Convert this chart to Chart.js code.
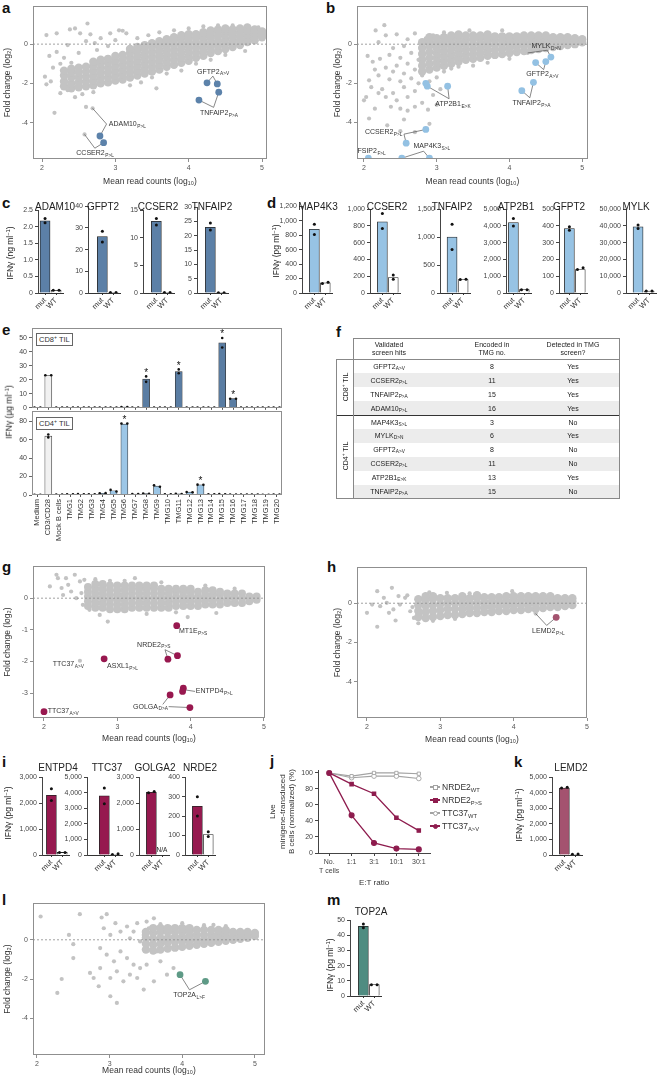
<!DOCTYPE html>
<html lang="en">
<head>
<meta charset="UTF-8">
<title>Screen hits figure</title>
<script src="https://cdn.jsdelivr.net/npm/chart.js"></script>
<style>
  body { margin: 0; background: #fff; }
  #fig { position: relative; width: 668px; height: 1082px; overflow: hidden; background: #fff;
         font-family: 'Liberation Sans', Arial, sans-serif; color: #222; }
  #fig canvas { position: absolute; }
  .t { position: absolute; white-space: nowrap; line-height: 1; transform: translate(-50%, -50%); }
  .rot { position: absolute; white-space: nowrap; line-height: 1; transform: translate(-50%, -50%) rotate(-90deg); }
  .letter { position: absolute; font: bold 15px 'Liberation Sans', Arial, sans-serif; line-height: 1; color: #111; }
  sub { font-size: 68%; vertical-align: -0.3em; line-height: 0; }
  sup { font-size: 68%; vertical-align: 0.5em; line-height: 0; }
  .ln { position: absolute; background: #888; }
  .tag { position: absolute; border: 0.8px solid #666; font-size: 7.5px; line-height: 1; padding: 1.5px 2px; background: #fff; color: #333; }
</style>
</head>
<body>
<div id="fig"></div>
<script>
// ---------------- panel a : CD8 screen, MA plot ----------------
const aBand = [
  [2.3,-2.15,-1.9,-1.6,-1.35], [2.4,-2.25,-2.0,-1.7,-1.45,-1.25], [2.5,-2.2,-1.95,-1.7,-1.45,-1.2],
  [2.6,-2.15,-1.9,-1.65,-1.4,-1.15], [2.7,-2.1,-1.85,-1.6,-1.35,-1.1,-0.9], [2.8,-2.0,-1.75,-1.5,-1.25,-1.0,-0.8],
  [2.9,-1.95,-1.7,-1.45,-1.2,-0.95,-0.75], [3.0,-1.85,-1.6,-1.35,-1.1,-0.85,-0.6], [3.1,-1.8,-1.55,-1.3,-1.05,-0.8,-0.55],
  [3.2,-1.7,-1.45,-1.2,-0.95,-0.7,-0.45,-0.25], [3.3,-1.6,-1.35,-1.1,-0.85,-0.6,-0.35,-0.15],
  [3.4,-1.5,-1.25,-1.0,-0.75,-0.5,-0.25,-0.05], [3.5,-1.4,-1.15,-0.9,-0.65,-0.4,-0.15,0.05],
  [3.6,-1.3,-1.05,-0.8,-0.55,-0.3,-0.05,0.15], [3.7,-1.15,-0.9,-0.65,-0.4,-0.15,0.1,0.25],
  [3.8,-1.05,-0.8,-0.55,-0.3,-0.05,0.2,0.35], [3.9,-0.95,-0.7,-0.45,-0.2,0.05,0.3,0.45],
  [4.0,-0.85,-0.6,-0.35,-0.1,0.15,0.35,0.5], [4.1,-0.7,-0.45,-0.2,0.05,0.3,0.5], [4.2,-0.6,-0.35,-0.1,0.15,0.4,0.6],
  [4.3,-0.45,-0.2,0.05,0.3,0.5,0.7], [4.4,-0.35,-0.1,0.15,0.4,0.6,0.75], [4.5,-0.25,0.0,0.25,0.5,0.7,0.8],
  [4.6,-0.15,0.1,0.35,0.55,0.75], [4.7,-0.05,0.2,0.4,0.6,0.8], [4.8,0.1,0.3,0.5,0.7,0.85], [4.9,0.2,0.4,0.6,0.75],
  [5.0,0.35,0.5,0.65]
];
const aOut = [
  [2.06,0.46],[2.2,0.55],[2.38,0.75],[2.45,0.8],[2.62,1.05],[2.52,0.55],[2.66,0.5],[2.72,0.05],[2.93,0.55],
  [3.05,0.7],[3.1,0.68],[3.15,0.55],[2.8,0.3],[2.6,0.15],[2.35,-0.05],[2.2,-0.4],[2.1,-0.6],[2.3,-0.7],
  [2.5,-0.45],[2.75,-0.3],[2.9,-0.1],[3.0,0.2],[2.04,-1.66],[2.06,-2.05],[2.12,-1.9],[2.17,-3.5],[2.6,-3.2],
  [2.69,-3.27],[2.58,-4.6],[3.56,-2.25],[4.77,-0.35],[2.25,-2.5],[2.45,-2.7],[2.55,-2.55],[2.35,-2.35],
  [2.7,-2.45],[3.2,-2.1],[3.35,-1.95],[2.15,-1.2],[2.25,-1.0],[2.4,-0.95],[3.3,0.3],[3.45,0.45],[3.6,0.6],
  [3.8,0.7],[4.0,0.8],[4.2,0.9],[4.4,0.95],[4.6,0.95],[4.8,0.9],[4.95,0.85],[3.9,-1.35],[4.1,-1.0],
  [4.3,-0.8],[4.5,-0.55],[3.7,-1.5],[3.5,-1.7]
];
const aHits = [[4.25,-1.97],[4.39,-2.03],[4.41,-2.45],[4.14,-2.85],[2.79,-4.68],[2.84,-5.02]];

// ---------------- panel b : CD4 screen ----------------
const bBand = [
  [2.8,-1.4,-1.1,-0.8,-0.5,-0.2,0.1], [2.9,-1.3,-1.0,-0.7,-0.4,-0.1,0.15,0.35], [3.0,-1.2,-0.95,-0.7,-0.45,-0.2,0.05,0.3],
  [3.1,-1.1,-0.85,-0.6,-0.35,-0.1,0.15,0.35], [3.2,-1.0,-0.75,-0.5,-0.25,0.0,0.25,0.45], [3.3,-0.9,-0.65,-0.4,-0.15,0.1,0.35,0.5],
  [3.4,-0.8,-0.55,-0.3,-0.05,0.2,0.45], [3.5,-0.75,-0.5,-0.25,0.0,0.25,0.45], [3.6,-0.7,-0.45,-0.2,0.05,0.3,0.45],
  [3.7,-0.6,-0.35,-0.1,0.15,0.35,0.5], [3.8,-0.55,-0.3,-0.05,0.2,0.4], [3.9,-0.5,-0.25,0.0,0.2,0.4],
  [4.0,-0.45,-0.2,0.05,0.25,0.4], [4.1,-0.4,-0.15,0.05,0.25,0.4], [4.2,-0.35,-0.1,0.1,0.3,0.45],
  [4.3,-0.3,-0.1,0.1,0.3,0.45], [4.4,-0.25,-0.05,0.15,0.3,0.45], [4.5,-0.2,0.0,0.15,0.3,0.45],
  [4.6,-0.15,0.05,0.2,0.35], [4.7,-0.1,0.05,0.2,0.35], [4.8,-0.05,0.1,0.25,0.35], [4.9,0.0,0.15,0.3], [5.0,0.1,0.25]
];
const bOut = [
  [2.28,0.97],[2.16,0.7],[2.3,0.45],[2.45,0.5],[2.6,0.25],[2.7,0.55],[2.85,0.3],[2.95,0.45],[3.1,0.6],[3.45,0.7],
  [3.9,0.7],[2.2,0.1],[2.4,-0.2],[2.55,-0.1],[2.05,-0.6],[2.12,-0.9],[2.22,-0.75],[2.35,-0.55],[2.5,-0.7],
  [2.65,-0.45],[2.75,-0.8],[2.6,-1.0],[2.45,-1.1],[2.3,-1.2],[2.15,-1.3],[2.4,-1.4],[2.55,-1.5],[2.7,-1.3],
  [2.8,-1.6],[2.65,-1.75],[2.5,-1.9],[2.35,-1.8],[2.2,-1.6],[2.07,-1.85],[2.1,-2.2],[2.25,-2.3],[2.4,-2.5],
  [2.55,-2.2],[2.7,-2.4],[2.75,-2.0],[2.9,-1.9],[3.0,-1.7],[3.05,-2.3],[2.95,-2.6],[2.6,-2.7],[2.45,-2.87],
  [2.3,-2.7],[2.2,-2.5],[2.0,-2.87],[2.03,-2.7],[2.37,-3.2],[2.5,-3.3],[2.6,-3.4],[2.7,-3.2],[2.8,-3.0],
  [2.88,-3.35],[3.0,-3.1],[2.07,-3.8],[2.32,-4.15],[2.5,-4.45],[2.7,-4.5],[2.9,-4.07],[2.55,-3.85],[2.15,-3.3],
  [3.1,-1.4],[3.2,-1.25],[3.3,-1.15],[3.5,-1.1],[3.7,-0.95],[4.0,-0.75],[4.25,-0.45]
];
const bHits = [[4.57,-0.66],[4.36,-0.94],[4.5,-0.89],[4.17,-2.38],[4.33,-1.95],[2.87,-2.15],[2.85,-2.0],[3.15,-2.15],
  [2.85,-4.36],[2.58,-5.06],[2.52,-5.83],[2.9,-5.83],[2.06,-5.83]];

// ---------------- panel c / d : IFN-gamma, mut vs WT ----------------
const barCats = ['mut', 'WT'];
const cGenes = ['ADAM10', 'GFPT2', 'CCSER2', 'TNFAIP2'];
const cMut = [2.18, 26, 13, 23];
const cWt = [0.08, 0.2, 0.1, 0.1];
const cMutDots = [[2.25, 2.12], [28.5, 23.5], [13.5, 12.3], [24.5, 22]];
const cWtDots = [[0.08, 0.08], [0.2, 0.2], [0.1, 0.1], [0.1, 0.1]];
const cTicks = [[0, 0.5, 1, 1.5, 2, 2.5], [0, 10, 20, 30, 40], [0, 5, 10, 15], [0, 5, 10, 15, 20, 25, 30]];
const cTickLabels = [['0', '0.5', '1.0', '1.5', '2.0', '2.5'], null, null, null];

const dGenes = ['MAP4K3', 'CCSER2', 'TNFAIP2', 'ATP2B1', 'GFPT2', 'MYLK'];
const dMut = [880, 850, 1000, 4200, 385, 39500];
const dWt = [140, 185, 240, 200, 140, 1200];
const dMutDots = [[950, 810], [950, 770], [1230, 780], [4450, 4000], [395, 375], [40500, 38500]];
const dWtDots = [[130, 150], [215, 165], [240, 245], [200, 200], [140, 150], [1200, 1200]];
const dTicks = [[0, 200, 400, 600, 800, 1000, 1200], [0, 200, 400, 600, 800, 1000], [0, 500, 1000, 1500],
  [0, 1000, 2000, 3000, 4000, 5000], [0, 100, 200, 300, 400, 500], [0, 10000, 20000, 30000, 40000, 50000]];

// ---------------- panel e : TMG screen ----------------
const eCats = ['Medium', 'CD3/CD28', 'Mock B cells', 'TMG1', 'TMG2', 'TMG3', 'TMG4', 'TMG5', 'TMG6', 'TMG7', 'TMG8',
  'TMG9', 'TMG10', 'TMG11', 'TMG12', 'TMG13', 'TMG14', 'TMG15', 'TMG16', 'TMG17', 'TMG18', 'TMG19', 'TMG20'];
const cd8Vals = [0.2, 23, 0.2, 0.2, 0.2, 0.2, 0.2, 0.2, 0.6, 0.2, 20.5, 0.2, 0.2, 25.8, 0.2, 0.2, 0.2, 46.4, 6.5, 0.2, 0.2, 0.2, 0.2];
const cd8Dots = [[0.2,0.2],[23.2,23.2],[0.2,0.2],[0.2,0.2],[0.2,0.2],[0.2,0.2],[0.2,0.2],[0.2,0.2],[0.6,0.6],[0.2,0.2],
  [22.4,18.5],[0.2,0.2],[0.2,0.2],[27.4,24.7],[0.2,0.2],[0.2,0.2],[0.2,0.2],[49.8,43],[6.5,6.5],[0.2,0.2],[0.2,0.2],[0.2,0.2],[0.2,0.2]];
const cd4Vals = [0.2, 63.8, 0.5, 0.8, 0.8, 0.8, 1.9, 4.6, 76.8, 1, 1.5, 9.7, 0.8, 1.2, 3.1, 11.1, 0.8, 0.8, 0.6, 0.5, 0.5, 0.3, 0.6];
const cd4Dots = [[0.2,0.2],[65.6,62.4],[0.5,0.5],[0.8,0.8],[0.9,0.8],[0.8,0.8],[1.8,2.0],[5.5,3.8],[77.5,77.5],[1,1],
  [1.6,1.4],[10.5,9],[0.8,0.8],[1.3,1.1],[3.2,3.0],[11.2,11],[0.8,0.8],[0.9,0.8],[0.6,0.6],[0.5,0.5],[0.5,0.5],[0.3,0.3],[0.6,0.6]];
const cd8Stars = [10, 13, 17, 18];
const cd4Stars = [8, 15];
const cd8Ticks = [0, 10, 20, 30, 40, 50];
const cd4Ticks = [0, 20, 40, 60, 80];

// ---------------- panel f : table ----------------
const tblGroups = ['CD8<sup>+</sup> TIL', 'CD4<sup>+</sup> TIL'];
const tblGroupOf = [0, 0, 0, 0, 1, 1, 1, 1, 1, 1];
const tblGene = ['GFPT2', 'CCSER2', 'TNFAIP2', 'ADAM10', 'MAP4K3', 'MYLK', 'GFPT2', 'CCSER2', 'ATP2B1', 'TNFAIP2'];
const tblSub = ['A>V', 'P>L', 'P>A', 'P>L', 'S>L', 'D>N', 'A>V', 'P>L', 'E>K', 'P>A'];
const tblTmg = [8, 11, 15, 16, 3, 6, 8, 11, 13, 15];
const tblHit = ['Yes', 'Yes', 'Yes', 'Yes', 'No', 'Yes', 'No', 'No', 'Yes', 'No'];

// ---------------- panel g : TTC37 / NRDE2 screen ----------------
const gBand = [
  [2.6,-0.25,-0.1,0.05,0.2,0.35], [2.7,-0.3,-0.15,0.0,0.15,0.3,0.45], [2.8,-0.3,-0.15,0.0,0.15,0.3,0.45],
  [2.9,-0.35,-0.2,-0.05,0.1,0.25,0.4], [3.0,-0.35,-0.2,-0.05,0.1,0.25,0.4], [3.1,-0.35,-0.2,-0.05,0.1,0.25,0.4],
  [3.2,-0.3,-0.15,0.0,0.15,0.3,0.4], [3.3,-0.3,-0.15,0.0,0.15,0.3,0.4], [3.4,-0.3,-0.15,0.0,0.15,0.3,0.4],
  [3.5,-0.3,-0.15,0.0,0.15,0.3,0.4], [3.6,-0.3,-0.15,0.0,0.15,0.3], [3.7,-0.3,-0.15,0.0,0.15,0.3],
  [3.8,-0.25,-0.1,0.05,0.2,0.3], [3.9,-0.25,-0.1,0.05,0.2,0.3], [4.0,-0.25,-0.1,0.05,0.2,0.3],
  [4.1,-0.25,-0.1,0.05,0.2], [4.2,-0.2,-0.05,0.1,0.25], [4.3,-0.2,-0.05,0.1,0.25], [4.4,-0.2,-0.05,0.1,0.2],
  [4.5,-0.15,0.0,0.15], [4.6,-0.15,0.0,0.15], [4.7,-0.15,0.0,0.15], [4.8,-0.1,0.05], [4.9,-0.05,0.05]
];
const gOut = [
  [2.08,0.37],[2.17,0.74],[2.19,0.63],[2.24,0.32],[2.3,0.63],[2.33,0.42],[2.37,0.21],[2.42,0.74],[2.49,0.53],
  [2.51,0.16],[2.55,0.58],[2.6,0.32],[2.26,0.1],[2.44,0.0],[2.53,-0.21],[2.62,-0.37],[2.76,-0.53],[2.87,-0.74],
  [3.24,0.63],[3.96,-0.6],[4.35,-0.47],[3.1,0.55],[3.6,0.5],[4.2,0.4],[4.6,0.3],[2.7,0.6],[2.9,0.55],[3.4,-0.5],
  [3.8,-0.45],[4.9,0.1],[2.49,-1.98]
];
const gHits = [[3.81,-0.87],[3.69,-1.93],[3.82,-1.82],[2.82,-1.92],[2.0,-3.59],[3.9,-2.85],[3.89,-2.95],[3.72,-3.06],[3.99,-3.46]];

// ---------------- panel h : LEMD2 screen ----------------
const hBand = [
  [2.7,-0.7,-0.4,-0.1,0.2], [2.8,-0.75,-0.45,-0.15,0.15,0.35], [2.9,-0.7,-0.4,-0.1,0.2,0.35], [3.0,-0.65,-0.35,-0.05,0.25],
  [3.1,-0.6,-0.3,0.0,0.25], [3.2,-0.6,-0.3,0.0,0.25], [3.3,-0.55,-0.3,-0.05,0.2,0.35], [3.4,-0.5,-0.25,0.0,0.25],
  [3.5,-0.5,-0.25,0.0,0.25,0.4], [3.6,-0.45,-0.2,0.05,0.3], [3.7,-0.45,-0.2,0.05,0.3], [3.8,-0.4,-0.15,0.1,0.3],
  [3.9,-0.4,-0.15,0.1,0.35], [4.0,-0.35,-0.1,0.15,0.35], [4.1,-0.35,-0.1,0.15,0.35], [4.2,-0.3,-0.05,0.15,0.35],
  [4.3,-0.3,-0.05,0.15,0.35], [4.4,-0.25,0.0,0.2,0.35], [4.5,-0.2,0.0,0.2,0.35], [4.6,-0.2,0.05,0.25],
  [4.7,-0.15,0.05,0.25], [4.8,-0.1,0.1,0.25]
];
const hOut = [
  [2.14,0.61],[2.34,0.78],[2.14,-1.2],[2.0,-0.49],[2.07,-0.07],[2.18,-0.15],[2.27,0.02],[2.3,-0.49],[2.36,-0.32],
  [2.39,-0.88],[2.45,-0.07],[2.52,0.27],[2.59,-0.41],[2.64,-0.75],[2.7,-1.02],[2.73,-0.58],[3.09,0.53],[3.98,0.61],
  [4.3,-0.53],[2.23,0.27],[2.43,0.36],[2.55,0.4],[2.62,-0.2],[2.85,0.55],[3.4,0.5],[2.9,-0.9],[3.2,-0.8]
];
const hHits = [[4.58,-0.72]];

// ---------------- panel i / j / k ----------------
const iGenes = ['ENTPD4', 'TTC37', 'GOLGA2', 'NRDE2'];
const iMut = [2300, 3800, 2420, 250];
const iWt = [100, 50, null, 105];
const iMutDots = [[2550, 2100], [4300, 3300], [2400, 2450], [300, 200]];
const iWtDots = [[100, 100], [40, 80], [], [120, 95]];
const iTicks = [[0, 1000, 2000, 3000], [0, 1000, 2000, 3000, 4000, 5000], [0, 1000, 2000, 3000], [0, 100, 200, 300, 400]];

const jCats = [['No.', 'T cells'], '1:1', '3:1', '10:1', '30:1'];
const jNrde2Wt = [100, 96, 100, 100, 99];
const jNrde2Mut = [100, 86, 74, 44, 28];
const jTtc37Wt = [100, 94, 96, 96, 93];
const jTtc37Mut = [100, 47, 12.5, 5.5, 4.5];
const jTicks = [0, 20, 40, 60, 80, 100];

const kMut = [4300], kWt = [50];
const kMutDots = [[4300, 4350]], kWtDots = [[50, 60]];
const kTicks = [[0, 1000, 2000, 3000, 4000, 5000]];

// ---------------- panel l / m : TOP2A ----------------
const lBand = [
  [3.5,-0.5,-0.2,0.1,0.4], [3.6,-0.55,-0.25,0.05,0.35,0.6], [3.7,-0.5,-0.2,0.1,0.4,0.6], [3.8,-0.45,-0.15,0.1,0.4,0.6],
  [3.9,-0.4,-0.1,0.15,0.4,0.6], [4.0,-0.35,-0.1,0.15,0.4,0.6], [4.1,-0.3,-0.05,0.2,0.45,0.6], [4.2,-0.25,0.0,0.25,0.5],
  [4.3,-0.2,0.0,0.25,0.5], [4.4,-0.15,0.05,0.25,0.5], [4.5,-0.1,0.1,0.3,0.5], [4.6,-0.05,0.15,0.35,0.5],
  [4.7,0.0,0.2,0.4], [4.8,0.05,0.25,0.4], [4.9,0.1,0.25,0.4], [5.0,0.2,0.35]
];
const lOut = [
  [2.05,1.19],[2.59,1.31],[2.89,1.14],[2.96,1.31],[2.44,0.25],[2.5,-0.22],[2.5,-0.93],[2.34,-2.0],[2.28,-2.71],
  [3.01,-2.88],[3.1,-3.22],[3.47,-2.54],[3.61,-2.12],[2.85,-2.37],[2.78,-1.95],[2.92,0.59],[3.01,0.25],[3.08,0.85],
  [3.15,0.42],[3.24,0.68],[3.28,0.08],[3.33,0.42],[3.38,0.85],[3.42,-0.08],[3.47,0.25],[3.54,0.59],[3.58,-0.25],
  [2.87,-0.42],[2.96,-0.76],[3.06,-1.1],[3.15,-0.59],[3.24,-0.93],[3.33,-1.27],[3.1,-1.61],[3.28,-1.78],[3.42,-1.44],
  [2.87,-1.44],[2.73,-1.69],[3.01,-1.95],[3.19,-2.12],[3.38,-1.95],[3.51,-1.27],[3.65,-0.59],[3.7,-1.1],[3.74,-0.08],
  [3.79,0.59],[3.61,1.1],[3.51,0.93],[3.88,-1.44],[3.79,-1.78],[3.93,-0.42],[4.43,0.76],[3.7,0.8],[4.0,0.85],
  [4.3,0.75],[4.6,0.7]
];
const lHits = [[3.97,-1.78],[4.32,-2.12]];

const mMut = [46], mWt = [7.5];
const mMutDots = [[47.5, 45]], mWtDots = [[7.5, 7.5]];
const mTicks = [[0, 10, 20, 30, 40, 50]];

// =================================================================
const FONT = "'Liberation Sans', Arial, sans-serif";
const GREY = '#c3c3c3';
Chart.defaults.font.family = FONT;
Chart.defaults.font.size = 7;
Chart.defaults.color = '#444';
Chart.defaults.animation = false;
Chart.defaults.responsive = false;
Chart.defaults.plugins.legend.display = false;
Chart.defaults.plugins.tooltip.enabled = false;

const fig = document.getElementById('fig');
function canvasAt(x, y, w, h) {
  const c = document.createElement('canvas');
  c.width = w; c.height = h;
  c.style.left = x + 'px'; c.style.top = y + 'px';
  c.style.width = w + 'px'; c.style.height = h + 'px';
  fig.appendChild(c);
  return c;
}
function text(html, x, y, size, cls) {
  const d = document.createElement('div');
  d.className = cls || 't';
  d.style.left = x + 'px'; d.style.top = y + 'px'; d.style.fontSize = size + 'px';
  d.innerHTML = html;
  fig.appendChild(d);
  return d;
}
function letter(ch, x, baseline) {
  const d = document.createElement('div');
  d.className = 'letter';
  d.style.left = x + 'px'; d.style.top = (baseline - 12.7) + 'px';
  d.textContent = ch;
  fig.appendChild(d);
}
function hline(x, y, w, color, th) {
  const d = document.createElement('div');
  d.className = 'ln';
  d.style.cssText += `left:${x}px;top:${y}px;width:${w}px;height:${th || 0.8}px;background:${color || '#888'}`;
  fig.appendChild(d);
}
function vline(x, y, h, color) {
  const d = document.createElement('div');
  d.className = 'ln';
  d.style.cssText += `left:${x}px;top:${y}px;width:0.8px;height:${h}px;background:${color || '#888'}`;
  fig.appendChild(d);
}
const pairs = arr => arr.map(([x, y]) => ({ x, y }));
const bandPts = band => band.flatMap(([x, ...ys]) => ys.map(y => ({ x, y })));
// two replicate dots: side by side when they would overlap
function spread(i, vals, max, off) {
  if (!vals.length) return [];
  const close = Math.abs(vals[0] - vals[1]) < max * 0.035;
  return vals.map((v, k) => ({ x: close ? i + (k ? off : -off) : i, y: v }));
}

// ---------- plugins ----------
const frame = {
  id: 'frame',
  afterDatasetsDraw(chart, args, o) {
    if (!o.show) return;
    const a = chart.chartArea, c = chart.ctx;
    c.save(); c.strokeStyle = o.color; c.lineWidth = 1;
    c.strokeRect(Math.round(a.left) + 0.5, Math.round(a.top) + 0.5, Math.round(a.right - a.left) - 1, Math.round(a.bottom - a.top) - 1);
    c.restore();
  }
};
const genes = {
  id: 'genes',
  afterDatasetsDraw(chart, args, o) {
    if (!o.items) return;
    const c = chart.ctx, xs = chart.scales.x, ys = chart.scales.y;
    c.save(); c.fillStyle = '#333'; c.textBaseline = 'middle'; c.textAlign = 'left';
    for (const g of o.items) {
      c.font = '7px ' + FONT; const w1 = c.measureText(g.name).width;
      c.font = '4.8px ' + FONT; const w2 = c.measureText(g.sub).width;
      const px = xs.getPixelForValue(g.x), py = ys.getPixelForValue(g.y);
      const x0 = g.align === 'left' ? px : g.align === 'right' ? px - w1 - w2 - 0.5 : px - (w1 + w2) / 2;
      c.font = '7px ' + FONT; c.fillText(g.name, x0, py);
      c.font = '4.8px ' + FONT; c.fillText(g.sub, x0 + w1 + 0.5, py + 2.4);
    }
    c.restore();
  }
};
const stars = {
  id: 'stars',
  afterDatasetsDraw(chart, args, o) {
    if (!o.idx) return;
    const c = chart.ctx, xs = chart.scales.x, ys = chart.scales.y;
    c.save(); c.fillStyle = '#111'; c.font = '10px ' + FONT; c.textAlign = 'center'; c.textBaseline = 'middle';
    o.idx.forEach(i => {
      const top = Math.max(...o.dots[i]);
      c.fillText('*', xs.getPixelForValue(i), ys.getPixelForValue(top) - 3.5);
    });
    c.restore();
  }
};

// ---------- MA plot ----------
function maPlot(s) {
  const cv = canvasAt(s.x, s.y, s.w, s.h);
  const sets = [
    { data: pairs(s.hits), backgroundColor: s.hitColor, pointRadius: 3.4, borderWidth: 0, order: 0 },
    ...s.leaders.map(l => ({ type: 'line', data: pairs(l), borderColor: '#555', borderWidth: 0.7, pointRadius: 0, order: 1 })),
    { type: 'line', data: [{ x: s.xMin, y: 0 }, { x: s.xMax, y: 0 }], borderColor: '#8a8a8a', borderWidth: 0.8,
      borderDash: [2, 2], pointRadius: 0, order: 2 },
    { data: pairs(s.out), backgroundColor: GREY, pointRadius: 2.1, borderWidth: 0, order: 3 },
    { data: bandPts(s.band), backgroundColor: GREY, pointRadius: s.bandR, borderWidth: 0, order: 4 }
  ];
  new Chart(cv, {
    type: 'scatter',
    data: { datasets: sets },
    options: {
      devicePixelRatio: 1,
      layout: { padding: { top: s.area.t, right: s.w - s.area.r } },
      plugins: { frame: { show: true, color: '#8f8f8f' }, genes: { items: s.genes } },
      scales: {
        x: {
          type: 'linear', min: s.xMin, max: s.xMax,
          afterBuildTicks: ax => { ax.ticks = [2, 3, 4, 5].map(v => ({ value: v })); },
          afterFit: ax => { ax.height = s.h - s.area.b; },
          border: { display: false },
          grid: { drawOnChartArea: false, tickLength: 3, color: '#8f8f8f' },
          ticks: { padding: 2, font: { size: 7 }, color: '#555' },
          title: { display: true, text: 'Mean read counts (log₁₀)', font: { size: 8.5 }, color: '#333', padding: { top: 0, bottom: s.xtPad } }
        },
        y: {
          min: s.yMin, max: s.yMax,
          afterBuildTicks: ax => { ax.ticks = s.yTicks.map(v => ({ value: v })); },
          afterFit: ax => { ax.width = s.area.l; },
          border: { display: false },
          grid: { drawOnChartArea: false, tickLength: 3, color: '#8f8f8f' },
          ticks: { padding: 2, font: { size: 7 }, color: '#555' },
          title: { display: true, text: 'Fold change (log₂)', font: { size: 8.5 }, color: '#333', padding: { top: 2.9, bottom: 0 } }
        }
      }
    },
    plugins: [frame, genes]
  });
}

// ---------- small mut / WT bar panel ----------
function barPanel(p) {
  const unit = 11;
  const xMin = -0.5 - p.lead / unit, xMax = 1.62;
  const areaW = (xMax - xMin) * unit;
  const yw = 34;
  const cv = canvasAt(p.axisX - yw, p.top - 6, Math.round(yw + areaW + 4), p.zero - p.top + 6 + 24);
  const max = p.ticks[p.ticks.length - 1];
  const dots = [...spread(0, p.dots[0], max, 0.26), ...spread(1, p.dots[1], max, 0.26)];
  const bars = [{ x: 0, y: p.vals[0] }];
  if (p.vals[1] !== null) bars.push({ x: 1, y: p.vals[1] });
  new Chart(cv, {
    type: 'bar',
    data: {
      datasets: [
        { type: 'scatter', data: dots, backgroundColor: '#111', pointRadius: 1.5, borderWidth: 0, order: 0 },
        { type: 'bar', data: bars, backgroundColor: [p.color, '#fff'], borderColor: '#222', borderWidth: 0.8,
          barThickness: 10, order: 1 }
      ]
    },
    options: {
      devicePixelRatio: 1,
      layout: { padding: { top: 6, right: 4 } },
      scales: {
        x: {
          type: 'linear', min: xMin, max: xMax, offset: false,
          afterBuildTicks: ax => { ax.ticks = [{ value: 0 }, { value: 1 }]; },
          afterFit: ax => { ax.height = 24; },
          ticks: { callback: v => barCats[v], minRotation: 45, maxRotation: 45, padding: 1, font: { size: 7.5 }, color: '#333' },
          grid: { drawOnChartArea: false, offset: false, tickLength: 2, color: '#333' },
          border: { color: '#333' }
        },
        y: {
          min: 0, max: max,
          afterBuildTicks: ax => { ax.ticks = p.ticks.map(v => ({ value: v })); },
          afterFit: ax => { ax.width = yw; },
          ticks: { callback: (v, i) => p.labels ? p.labels[i] : v.toLocaleString('en-US'), padding: 2, font: { size: 7 }, color: '#444' },
          grid: { drawOnChartArea: false, tickLength: 3, color: '#444' },
          border: { color: '#444' }
        }
      }
    }
  });
  text(p.title, p.titleX, p.titleY, 10);
}

// ---------- TMG screen panel (e) ----------
function tmgPanel(p) {
  const cv = canvasAt(0, p.top - 6, 288, p.h);
  const n = eCats.length;
  const dots = p.dots.flatMap((d, i) => spread(i, d, p.max, 0.27));
  const colors = p.vals.map((v, i) => i === 1 ? '#f1f1f1' : p.color);
  new Chart(cv, {
    type: 'bar',
    data: {
      datasets: [
        { type: 'scatter', data: dots, backgroundColor: '#111', pointRadius: 1.3, borderWidth: 0, order: 0 },
        { type: 'bar', data: p.vals.map((v, i) => ({ x: i, y: v })), backgroundColor: colors, borderColor: '#333',
          borderWidth: 0.7, barThickness: 7, order: 1 }
      ]
    },
    options: {
      devicePixelRatio: 1,
      layout: { padding: { top: 6, right: 6 } },
      plugins: { frame: { show: true, color: '#8f8f8f' }, stars: { idx: p.stars, dots: p.dots } },
      scales: {
        x: {
          type: 'linear', min: -0.5, max: n - 0.5, offset: false,
          afterBuildTicks: ax => { ax.ticks = eCats.map((c, i) => ({ value: i })); },
          afterFit: ax => { ax.height = p.h - 6 - p.areaH; },
          ticks: { display: p.labels, callback: v => eCats[v], minRotation: 90, maxRotation: 90, padding: 2, font: { size: 7.5 }, color: '#333', autoSkip: false },
          grid: { drawOnChartArea: false, offset: false, tickLength: 2, color: '#555' },
          border: { display: false }
        },
        y: {
          min: 0, max: p.yMax,
          afterBuildTicks: ax => { ax.ticks = p.ticks.map(v => ({ value: v })); },
          afterFit: ax => { ax.width = 32; },
          ticks: { padding: 2, font: { size: 7 }, color: '#444' },
          grid: { drawOnChartArea: false, tickLength: 3, color: '#666' },
          border: { display: false }
        }
      }
    },
    plugins: [frame, stars]
  });
}

// ================= build the figure =================
letter('a', 2, 13); letter('b', 326, 13);
letter('c', 2, 208); letter('d', 267, 208);
letter('e', 2, 335); letter('f', 336, 337);
letter('g', 2, 572); letter('h', 327, 572);
letter('i', 2, 767); letter('j', 270, 766); letter('k', 514, 767);
letter('l', 2, 905); letter('m', 327, 905);

// a
maPlot({
  x: 0, y: 0, w: 275, h: 195, area: { l: 33, t: 6, r: 267, b: 159 }, xtPad: 7.9,
  xMin: 1.877, xMax: 5.068, yMin: -5.85, yMax: 1.93, yTicks: [0, -2, -4],
  band: aBand, bandR: 4.2, out: aOut, hits: aHits, hitColor: '#5c82aa',
  leaders: [[[4.25, -1.97], [4.33, -1.63], [4.39, -2.03]], [[4.14, -2.85], [4.34, -3.22], [4.41, -2.45]],
            [[2.69, -3.27], [2.88, -4.07], [2.79, -4.68]], [[2.58, -4.6], [2.72, -5.3], [2.84, -5.02]]],
  genes: [{ x: 4.33, y: -1.4, name: 'GFTP2', sub: 'A>V' }, { x: 4.41, y: -3.52, name: 'TNFAIP2', sub: 'P>A' },
          { x: 2.91, y: -4.07, name: 'ADAM10', sub: 'P>L', align: 'left' }, { x: 2.72, y: -5.57, name: 'CCSER2', sub: 'P>L' }]
});
// b
maPlot({
  x: 330, y: 0, w: 264, h: 195, area: { l: 27, t: 6, r: 258, b: 159 }, xtPad: 7.9,
  xMin: 1.904, xMax: 5.08, yMin: -5.87, yMax: 1.94, yTicks: [0, -2, -4],
  band: bBand, bandR: 4.2, out: bOut, hits: bHits, hitColor: '#93c1e3',
  leaders: [[[4.25, -0.45], [4.52, -0.31], [4.57, -0.66]], [[4.36, -0.94], [4.47, -1.3], [4.5, -0.89]],
            [[4.17, -2.38], [4.28, -2.74], [4.33, -1.95]], [[2.87, -2.15], [3.17, -2.79], [3.15, -2.15]],
            [[2.85, -4.36], [2.55, -4.6], [2.58, -5.06]], [[2.52, -5.83], [2.82, -5.47], [2.9, -5.83]]],
  genes: [{ x: 4.5, y: -0.1, name: 'MYLK', sub: 'D>N' }, { x: 4.45, y: -1.55, name: 'GFTP2', sub: 'A>V' },
          { x: 4.3, y: -3.03, name: 'TNFAIP2', sub: 'P>A' }, { x: 3.22, y: -3.05, name: 'ATP2B1', sub: 'E>K' },
          { x: 2.53, y: -4.5, name: 'CCSER2', sub: 'P>L', align: 'right' }, { x: 2.93, y: -5.21, name: 'MAP4K3', sub: 'S>L' },
          { x: 1.91, y: -5.47, name: 'FSIP2', sub: 'F>L', align: 'left' }]
});

// c
const cLayout = [{ axisX: 38, lead: 1.5, titleX: 55 }, { axisX: 88, lead: 9, titleX: 103 },
                 { axisX: 143, lead: 8, titleX: 158 }, { axisX: 197, lead: 8, titleX: 212 }];
const cTops = [210, 206, 210, 207];
cGenes.forEach((g, i) => barPanel({
  title: g, titleX: cLayout[i].titleX, titleY: 207, axisX: cLayout[i].axisX, lead: cLayout[i].lead,
  top: cTops[i], zero: 293, ticks: cTicks[i], labels: cTickLabels[i],
  vals: [cMut[i], cWt[i]], dots: [cMutDots[i], cWtDots[i]], color: '#5c80a7'
}));
text('IFNγ (ng ml<sup>−1</sup>)', 10, 253, 8.5, 'rot');

// d
const dLayout = [{ axisX: 302, lead: 7, titleX: 318, top: 206 }, { axisX: 370, lead: 7, titleX: 387, top: 209 },
                 { axisX: 440, lead: 6.5, titleX: 452, top: 209 }, { axisX: 506, lead: 2, titleX: 516, top: 209 },
                 { axisX: 559, lead: 5, titleX: 569, top: 209 }, { axisX: 626, lead: 6.5, titleX: 636, top: 209 }];
dGenes.forEach((g, i) => barPanel({
  title: g, titleX: dLayout[i].titleX, titleY: 207, axisX: dLayout[i].axisX, lead: dLayout[i].lead,
  top: dLayout[i].top, zero: 293, ticks: dTicks[i], vals: [dMut[i], dWt[i]], dots: [dMutDots[i], dWtDots[i]], color: '#97c3e4'
}));
text('IFNγ (pg ml<sup>−1</sup>)', 276, 251, 8.5, 'rot');

// e
tmgPanel({ top: 328, h: 92, areaH: 83, yMax: 56.8, ticks: cd8Ticks, vals: cd8Vals, dots: cd8Dots, max: 56.8,
           stars: cd8Stars, color: '#5a7da3', labels: false });
tmgPanel({ top: 411, h: 150, areaH: 84, yMax: 90.8, ticks: cd4Ticks, vals: cd4Vals, dots: cd4Dots, max: 90.8,
           stars: cd4Stars, color: '#9cc6e6', labels: true });
text('IFNγ (μg ml<sup>−1</sup>)', 9, 412, 8.5, 'rot');
text('CD8<sup>+</sup> TIL', 36, 333, 7.5, 'tag');
text('CD4<sup>+</sup> TIL', 36, 417, 7.5, 'tag');

// f : table
(function () {
  const L = 336, G = 353, R = 619, T = 338, H = 359, rowH = 13.9;
  const colX = [389, 492, 573];
  tblGene.forEach((g, i) => {
    const y = H + i * rowH + (tblGroupOf[i] ? 0.4 : 0);
    if (i % 2 === 1) {
      const s = document.createElement('div');
      s.style.cssText = `position:absolute;left:${G}px;top:${y}px;width:${R - G}px;height:${rowH}px;background:#ececec`;
      fig.appendChild(s);
    }
  });
  hline(G, T, R - G);
  hline(L, H, R - L);
  hline(L, H + 4 * rowH, R - L, '#333', 1);
  hline(L, 498, R - L + 0.8);
  vline(L, H, 498 - H);
  vline(G, T, 498 - T);
  vline(R, T, 498 - T);
  const hy = [344, 351.5];
  [['Validated', 'screen hits'], ['Encoded in', 'TMG no.'], ['Detected in TMG', 'screen?']].forEach((h, c) => {
    text(h[0], colX[c], hy[0], 7); text(h[1], colX[c], hy[1], 7);
  });
  tblGene.forEach((g, i) => {
    const yc = H + (i + 0.5) * rowH;
    text(g + '<sub>' + tblSub[i].replace('>', '&gt;') + '</sub>', colX[0], yc, 7);
    text(String(tblTmg[i]), colX[1], yc, 7);
    text(tblHit[i], colX[2], yc, 7);
  });
  text(tblGroups[0], (L + G) / 2, H + 2 * rowH, 7, 'rot');
  text(tblGroups[1], (L + G) / 2, H + 7 * rowH, 7, 'rot');
})();

// g
maPlot({
  x: 0, y: 560, w: 272, h: 192, area: { l: 33, t: 6, r: 265, b: 158 }, xtPad: 7.9,
  xMin: 1.85, xMax: 5.014, yMin: -3.79, yMax: 1.01, yTicks: [0, -1, -2, -3],
  band: gBand, bandR: 4.0, out: gOut, hits: gHits, hitColor: '#98184f',
  leaders: [[[3.69, -1.93], [3.65, -1.63], [3.82, -1.82]], [[3.92, -2.9], [4.06, -2.95]],
            [[3.72, -3.06], [3.62, -3.36]], [[3.7, -3.43], [3.99, -3.46]]],
  genes: [{ x: 3.84, y: -1.05, name: 'MT1E', sub: 'P>S', align: 'left' }, { x: 3.27, y: -1.47, name: 'NRDE2', sub: 'P>S', align: 'left' },
          { x: 2.12, y: -2.1, name: 'TTC37', sub: 'A>V', align: 'left' }, { x: 2.86, y: -2.16, name: 'ASXL1', sub: 'P>L', align: 'left' },
          { x: 4.07, y: -2.95, name: 'ENTPD4', sub: 'P>L', align: 'left' }, { x: 3.69, y: -3.43, name: 'GOLGA', sub: 'D>A', align: 'right' },
          { x: 2.05, y: -3.57, name: 'TTC37', sub: 'A>V', align: 'left' }]
});
// h
maPlot({
  x: 330, y: 561, w: 264, h: 192, area: { l: 27, t: 6, r: 257, b: 157 }, xtPad: 7.9,
  xMin: 1.864, xMax: 5.0, yMin: -5.84, yMax: 1.83, yTicks: [0, -2, -4],
  band: hBand, bandR: 4.2, out: hOut, hits: hHits, hitColor: '#a4536f',
  leaders: [[[4.3, -0.53], [4.45, -1.13], [4.58, -0.72]]],
  genes: [{ x: 4.47, y: -1.44, name: 'LEMD2', sub: 'P>L' }]
});

// i
const iLayout = [{ axisX: 42, lead: 4, titleX: 58 }, { axisX: 87, lead: 12, titleX: 107 },
                 { axisX: 139, lead: 7, titleX: 155 }, { axisX: 185, lead: 7, titleX: 200 }];
iGenes.forEach((g, i) => barPanel({
  title: g, titleX: iLayout[i].titleX, titleY: 768, axisX: iLayout[i].axisX, lead: iLayout[i].lead,
  top: 777, zero: 855, ticks: iTicks[i], vals: [iMut[i], iWt[i]], dots: [iMutDots[i], iWtDots[i]], color: '#96194f'
}));
text('N/A', 162, 850, 6.5);
text('IFNγ (pg ml<sup>−1</sup>)', 8, 813, 8.5, 'rot');

// j
(function () {
  const cv = canvasAt(268, 764, 168, 125);
  const maroon = '#8e1c4e', grey = '#a3a3a3';
  new Chart(cv, {
    type: 'line',
    data: {
      labels: jCats,
      datasets: [
        { data: jNrde2Mut, borderColor: maroon, backgroundColor: maroon, pointStyle: 'rect', pointRadius: 2.3, borderWidth: 1.3 },
        { data: jTtc37Mut, borderColor: maroon, backgroundColor: maroon, pointStyle: 'circle', pointRadius: 2.4, borderWidth: 1.3 },
        { data: jNrde2Wt, borderColor: grey, backgroundColor: '#fff', pointStyle: 'rect', pointRadius: 2.3, pointBorderWidth: 0.9, borderWidth: 1.1 },
        { data: jTtc37Wt, borderColor: grey, backgroundColor: '#fff', pointStyle: 'circle', pointRadius: 2.3, pointBorderWidth: 0.9, borderWidth: 1.1 }
      ]
    },
    options: {
      devicePixelRatio: 1,
      layout: { padding: { top: 6, right: 6 } },
      scales: {
        x: {
          offset: true,
          afterFit: ax => { ax.height = 36; },
          ticks: { padding: 2, font: { size: 7 }, color: '#444', maxRotation: 0, autoSkip: false },
          grid: { drawOnChartArea: false, tickLength: 3, color: '#444' },
          border: { color: '#444' },
          title: { display: true, text: 'E:T ratio', font: { size: 8 }, color: '#333', padding: { top: 0, bottom: 1.2 } }
        },
        y: {
          min: 0, max: 103.4,
          afterBuildTicks: ax => { ax.ticks = jTicks.map(v => ({ value: v })); },
          afterFit: ax => { ax.width = 50; },
          ticks: { padding: 2, font: { size: 7 }, color: '#444' },
          grid: { drawOnChartArea: false, tickLength: 3, color: '#444' },
          border: { color: '#444' },
          title: { display: true, text: ['Live', 'minigene-transduced', 'B cells (normalized) (%)'], font: { size: 8 }, color: '#333', padding: { top: 0.2, bottom: 0 } }
        }
      }
    }
  });
  const legend = [['NRDE2', 'WT', grey, '0', false, 787], ['NRDE2', 'P&gt;S', maroon, '0', true, 800],
                  ['TTC37', 'WT', grey, '50%', false, 813], ['TTC37', 'A&gt;V', maroon, '50%', true, 826]];
  legend.forEach(([name, sub, col, rad, filled, y]) => {
    const d = document.createElement('div');
    d.style.cssText = `position:absolute;left:430px;top:${y - 5}px;height:10px;font-size:8.5px;line-height:10px;white-space:nowrap;color:#333`;
    d.innerHTML = `<span style="display:inline-block;position:relative;width:10px;height:10px;vertical-align:top;margin-right:2px">` +
      `<span style="position:absolute;left:0;top:4.4px;width:10px;height:1.2px;background:${col}"></span>` +
      `<span style="position:absolute;left:2.5px;top:2.5px;width:3.4px;height:3.4px;border:1px solid ${col};background:${filled ? col : '#fff'};border-radius:${rad}"></span></span>` +
      name + '<sub>' + sub + '</sub>';
    fig.appendChild(d);
  });
})();

// k
barPanel({ title: 'LEMD2', titleX: 571, titleY: 768, axisX: 552, lead: 7, top: 777, zero: 855, ticks: kTicks[0],
           vals: [kMut[0], kWt[0]], dots: [kMutDots[0], kWtDots[0]], color: '#a4536f' });
text('IFNγ (pg ml<sup>−1</sup>)', 519, 815, 8.5, 'rot');

// l
maPlot({
  x: 0, y: 897, w: 272, h: 185, area: { l: 33, t: 6, r: 265, b: 158 }, xtPad: 5.9,
  xMin: 1.945, xMax: 5.14, yMin: -5.88, yMax: 1.87, yTicks: [0, -2, -4],
  band: lBand, bandR: 4.2, out: lOut, hits: lHits, hitColor: '#5e9a86',
  leaders: [[[3.97, -1.78], [4.1, -2.55], [4.32, -2.12]]],
  genes: [{ x: 4.09, y: -2.84, name: 'TOP2A', sub: 'L>F' }]
});

// m
barPanel({ title: 'TOP2A', titleX: 371, titleY: 912, axisX: 350, lead: 8, top: 920, zero: 996, ticks: mTicks[0],
           vals: [mMut[0], mWt[0]], dots: [mMutDots[0], mWtDots[0]], color: '#4f8c81' });
text('IFNγ (pg ml<sup>−1</sup>)', 330, 965, 8.5, 'rot');
</script>
</body>
</html>
